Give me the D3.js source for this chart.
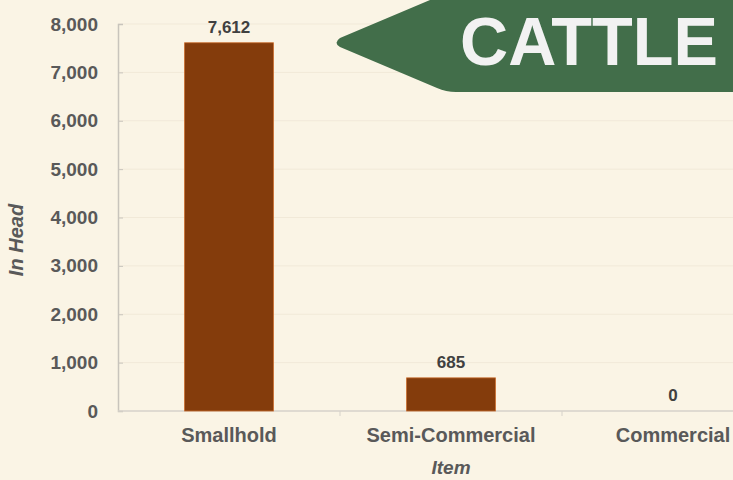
<!DOCTYPE html>
<html>
<head>
<meta charset="utf-8">
<script src="https://cdn.jsdelivr.net/npm/d3@7"></script>
<style>
  html, body { margin: 0; padding: 0; background: #faf4e5; }
  svg { display: block; }
</style>
</head>
<body>
<div id="chart"></div>
<script>
(function () {

    // data
    var categories = ["Smallhold", "Semi-Commercial", "Commercial"];
    var values = [7612, 685, 0];
    var yTicks = [0, 1000, 2000, 3000, 4000, 5000, 6000, 7000, 8000];

    var width = 733,
        height = 480,
        left = 118,
        right = 784,
        top = 24,
        bottom = 411,
        font = "'Liberation Sans', Arial, sans-serif",
        grey = "#595959";

    var svg = d3.select("#chart").append("svg")
        .attr("width", width)
        .attr("height", height);

    svg.append("rect")
        .attr("width", width)
        .attr("height", height)
        .style("fill", "#faf4e5");

    var x = d3.scaleBand()
        .domain(categories)
        .range([left, right])
        .paddingInner(0.6)
        .paddingOuter(0.3);

    var y = d3.scaleLinear()
        .domain([0, 8000])
        .range([bottom, top]);

    // faint gridlines
    svg.append("g").selectAll("line")
        .data(yTicks.slice(1))
        .enter().append("line")
        .attr("x1", left).attr("x2", width)
        .attr("y1", function (d) { return y(d); })
        .attr("y2", function (d) { return y(d); })
        .style("stroke", "#f1e9d8")
        .style("stroke-width", 1);

    // y axis
    var yAxis = svg.append("g")
        .attr("transform", "translate(" + left + ",0)")
        .call(d3.axisLeft(y).tickValues(yTicks).tickSize(-5).tickPadding(20)
            .tickFormat(d3.format(",")));
    yAxis.select(".domain").style("stroke", "#c8c4bc").style("stroke-width", 1.5);
    yAxis.selectAll(".tick line").style("stroke", "#c8c4bc");
    yAxis.selectAll("text")
        .style("font-family", font)
        .style("font-size", "19px")
        .style("font-weight", "bold")
        .style("fill", grey);

    // baseline with separators between categories
    svg.append("line")
        .attr("x1", left).attr("x2", width)
        .attr("y1", bottom).attr("y2", bottom)
        .style("stroke", "#d6d2ca").style("stroke-width", 1.5);

    var gap = (x.step() - x.bandwidth()) / 2;
    svg.append("g").selectAll("line")
        .data(categories.slice(1))
        .enter().append("line")
        .attr("x1", function (d) { return x(d) - gap; })
        .attr("x2", function (d) { return x(d) - gap; })
        .attr("y1", bottom).attr("y2", bottom + 5)
        .style("stroke", "#d6d2ca");

    // bars
    svg.append("g").selectAll("rect")
        .data(values)
        .enter().append("rect")
        .attr("x", function (d, i) { return x(categories[i]); })
        .attr("width", x.bandwidth())
        .attr("y", function (d) { return y(d); })
        .attr("height", function (d) { return bottom - y(d); })
        .style("fill", "#843c0c")
        .style("stroke", "#c86a2a")
        .style("stroke-width", 0.8);

    // value labels
    svg.append("g").selectAll("text")
        .data(values)
        .enter().append("text")
        .attr("x", function (d, i) { return x(categories[i]) + x.bandwidth() / 2; })
        .attr("y", function (d) { return Math.max(y(d) - 14, 21); })
        .attr("text-anchor", "middle")
        .attr("dominant-baseline", "middle")
        .style("font-family", font)
        .style("font-size", "17px")
        .style("font-weight", "bold")
        .style("fill", "#404040")
        .text(function (d) { return d3.format(",")(d); });

    // category labels
    svg.append("g").selectAll("text")
        .data(categories)
        .enter().append("text")
        .attr("x", function (d) { return x(d) + x.bandwidth() / 2; })
        .attr("y", 437)
        .attr("text-anchor", "middle")
        .attr("dominant-baseline", "middle")
        .style("font-family", font)
        .style("font-size", "20px")
        .style("font-weight", "bold")
        .style("fill", grey)
        .text(function (d) { return d; });

    // axis titles
    svg.append("text")
        .attr("transform", "translate(18,240) rotate(-90)")
        .attr("text-anchor", "middle")
        .attr("dominant-baseline", "middle")
        .style("font-family", font)
        .style("font-size", "20px")
        .style("font-weight", "bold")
        .style("font-style", "italic")
        .style("fill", grey)
        .text("In Head");

    svg.append("text")
        .attr("x", (left + right) / 2)
        .attr("y", 469)
        .attr("text-anchor", "middle")
        .attr("dominant-baseline", "middle")
        .style("font-family", font)
        .style("font-size", "19px")
        .style("font-weight", "bold")
        .style("font-style", "italic")
        .style("fill", grey)
        .text("Item");

    // green banner
    svg.append("path")
        .attr("d", "M733,0 L430,0 L340,38 Q333,43 340,47 L437,88 Q446,92 456,92 L733,92 Z")
        .style("fill", "#426e4a");

    svg.append("text")
        .attr("x", 460)
        .attr("y", 65)
        .attr("textLength", 258)
        .attr("lengthAdjust", "spacingAndGlyphs")
        .style("font-family", font)
        .style("font-size", "69px")
        .style("font-weight", "bold")
        .style("fill", "#f2f2f2")
        .text("CATTLE");
}());
</script>
</body>
</html>
